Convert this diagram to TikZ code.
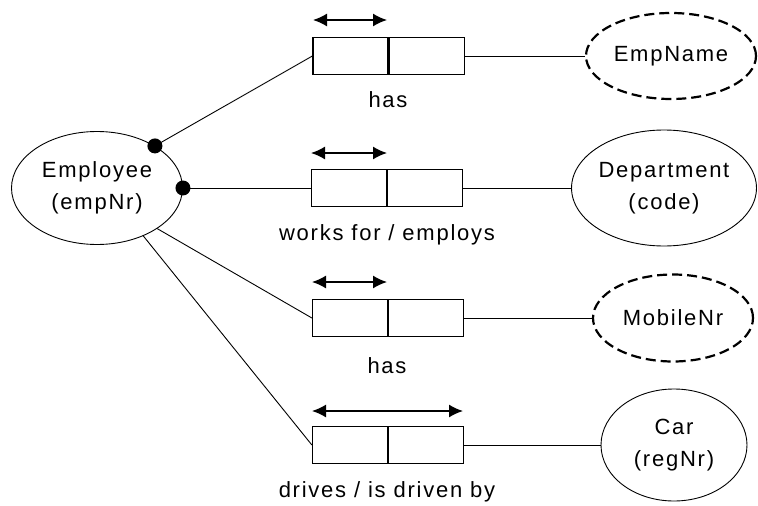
\documentclass[tikz,border=0pt]{standalone}
\usepackage{fontspec}
\setmainfont{Liberation Sans}[LetterSpace=8]
\usetikzlibrary{shapes.geometric,arrows.meta}
\begin{document}
\begin{tikzpicture}[x=1pt,y=-1pt,
  txt/.style={font=\fontsize{22}{32}\selectfont, align=center, inner sep=0pt},
  entity/.style={ellipse, draw, line width=0.9pt, inner sep=0pt, txt},
  valtype/.style={entity, line width=2.2pt, dash pattern=on 10pt off 5pt},
  role/.style={rectangle, draw, line width=1.2pt, minimum width=75pt, minimum height=37pt, inner sep=0pt},
  conn/.style={line width=0.9pt},
  uc/.style={line width=1.5pt, {Latex[length=14pt,width=13pt]}-{Latex[length=14pt,width=13pt]}},
  dotmark/.style={circle, fill=black, inner sep=0pt, minimum size=15pt}]
\useasboundingbox (0,0) rectangle (758,506);

% entities
\node[entity, minimum width=171pt, minimum height=113pt] (emp) at (97,188) {Employee\\(empNr)};
\node[valtype, minimum width=170pt, minimum height=86pt] (ename) at (671,56) {EmpName};
\node[entity, minimum width=172pt, minimum height=116pt] (dept) at (664,188) {Department\\(code)};
\node[valtype, minimum width=160pt, minimum height=87pt] (mob) at (673,318) {MobileNr};
\node[entity, minimum width=146pt, minimum height=112pt] (car) at (674,445) {Car\\(regNr)};

% fact type 1
\node[role] (r1a) at (350.5,56) {};
\node[role, anchor=west] (r1b) at (r1a.east) {};
\node[txt] (l1) at (388,100) {has};
\coordinate (u1a) at (313,20);
\coordinate (u1b) at (387,20);
\draw[uc] (u1a) -- (u1b);

% fact type 2
\node[role] (r2a) at (349,188) {};
\node[role, anchor=west] (r2b) at (r2a.east) {};
\node[txt] (l2) at (387,235) {works for / employs};
\coordinate (u2a) at (311,153);
\coordinate (u2b) at (387,153);
\draw[uc] (u2a) -- (u2b);

% fact type 3
\node[role] (r3a) at (350,318) {};
\node[role, anchor=west] (r3b) at (r3a.east) {};
\node[txt] (l3) at (387,366) {has};
\coordinate (u3a) at (312,282);
\coordinate (u3b) at (387,282);
\draw[uc] (u3a) -- (u3b);

% fact type 4
\node[role] (r4a) at (350,445) {};
\node[role, anchor=west] (r4b) at (r4a.east) {};
\node[txt] (l4) at (387,492) {drives / is driven by};
\coordinate (u4a) at (312,411);
\coordinate (u4b) at (463,411);
\draw[uc] (u4a) -- (u4b);

% connectors
\draw[conn] (emp.36) -- (r1a.west);
\draw[conn] (emp.east) -- (r2a.west);
\draw[conn] (emp.-34) -- (r3a.west);
\draw[conn] (emp.-46) -- (r4a.west);
\draw[conn] (r1b.east) -- (ename.west);
\draw[conn] (r2b.east) -- (dept.west);
\draw[conn] (r3b.east) -- (mob.west);
\draw[conn] (r4b.east) -- (car.west);

% mandatory dots
\node[dotmark] (m1) at (emp.36) {};
\node[dotmark] (m2) at (emp.east) {};
\end{tikzpicture}
\end{document}
